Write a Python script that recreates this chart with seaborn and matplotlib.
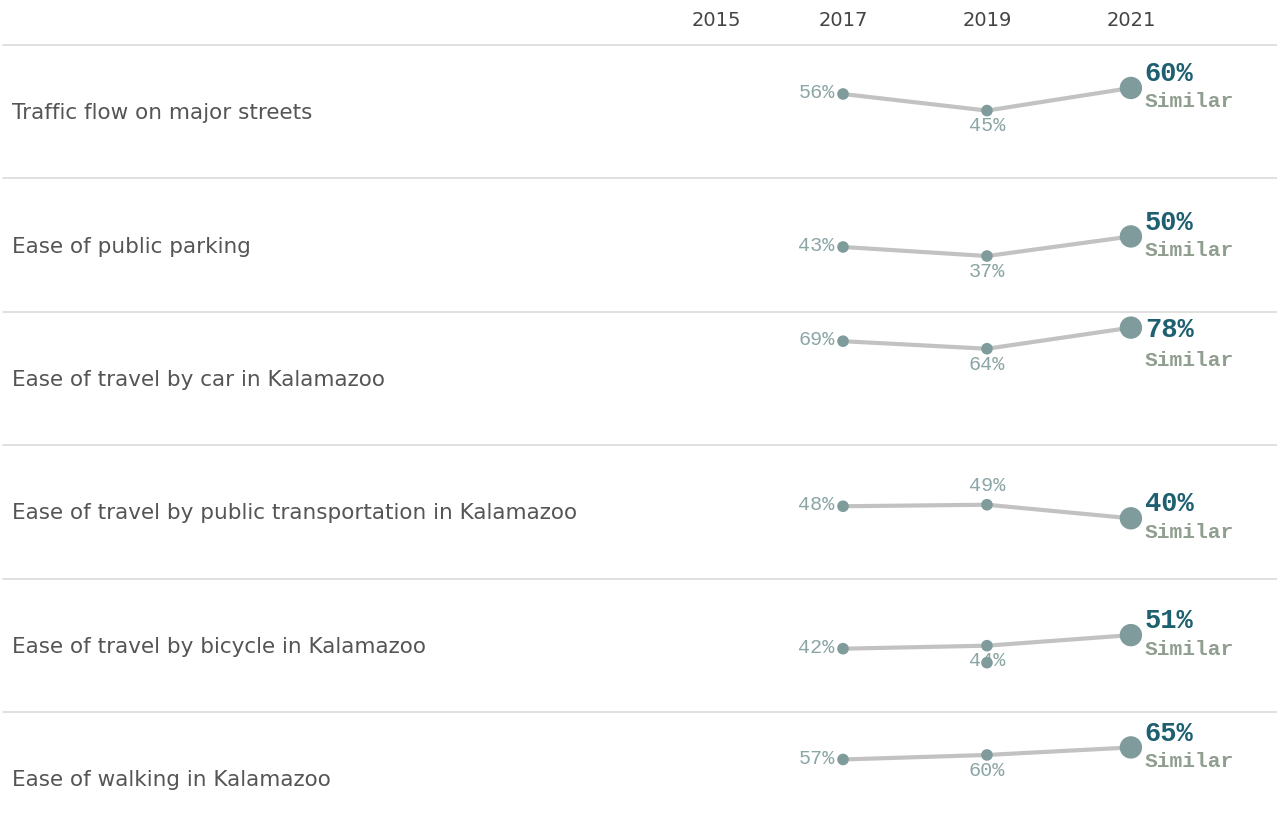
import matplotlib
matplotlib.use("Agg")
import matplotlib.pyplot as plt
from matplotlib.lines import Line2D
from matplotlib import transforms
import seaborn as sns
import pandas as pd

# ---------------- data ----------------
items = [
    "Traffic flow on major streets",
    "Ease of public parking",
    "Ease of travel by car in Kalamazoo",
    "Ease of travel by public transportation in Kalamazoo",
    "Ease of travel by bicycle in Kalamazoo",
    "Ease of walking in Kalamazoo",
]
years = [2017, 2019, 2021]
header_years = [2015, 2017, 2019, 2021]
v2017 = [56, 43, 69, 48, 42, 57]
v2019 = [45, 37, 64, 49, 44, 60]
v2021 = [60, 50, 78, 40, 51, 65]
status = ["Similar", "Similar", "Similar", "Similar", "Similar", "Similar"]

rows = []
for i, it in enumerate(items):
    for y, v in zip(years, [v2017[i], v2019[i], v2021[i]]):
        rows.append({"item": it, "year": y, "value": v, "latest": y == years[-1]})
df = pd.DataFrame(rows)

# ---------------- style ----------------
sns.set_theme(style="white")
plt.rcParams["font.family"] = ["DejaVu Sans"]

W, H = 1277, 838
fig = plt.figure(figsize=(W / 100, H / 100), dpi=100)

LINE_C = "#c2c2c2"
PT_C = "#7f9b9b"
LBL_C = "#8ca5a5"
BIG_C = "#1e5f70"
SIM_C = "#8f9e8f"
SEP_C = "#dadada"
MONO = "Liberation Mono"

left_px = 689
top_px = 45
row_h = 133.4
xlim = (2014.86, 2023.03)
ylim = (0, 88.5)
px_per_unit = row_h / (ylim[1] - ylim[0])

def fx(px):
    return px / W

def fy(py):
    return 1 - py / H

# separators
for i in range(len(items)):
    y = top_px + i * row_h
    fig.add_artist(Line2D([fx(3), fx(W)], [fy(y), fy(y)], color=SEP_C, lw=1.2,
                          transform=fig.transFigure))

axes = []
for i, it in enumerate(items):
    top = top_px + i * row_h
    ax = fig.add_axes([fx(left_px), fy(top + row_h), fx(W - left_px), row_h / H])
    ax.set_xlim(*xlim)
    ax.set_ylim(*ylim)
    ax.axis("off")
    ax.patch.set_alpha(0)
    d = df[df["item"] == it]
    sns.lineplot(data=d, x="year", y="value", ax=ax, color=LINE_C, lw=3,
                 legend=False, zorder=1)
    sns.scatterplot(data=d, x="year", y="value", size="latest",
                    sizes={False: 70, True: 260}, ax=ax, color=PT_C,
                    edgecolor="none", legend=False, zorder=2)
    ax.set_xlim(*xlim)
    ax.set_ylim(*ylim)

    a, b, c = v2017[i], v2019[i], v2021[i]
    # 2017 label left of point
    ax.annotate(f"{a}%", (2017, a), xytext=(-6, 1), textcoords="offset points",
                ha="right", va="center", fontsize=14.5, color=LBL_C, family=MONO)
    # 2019 label below (above if local peak)
    if b > a and b > c:
        ax.annotate(f"{b}%", (2019, b), xytext=(0, 14), textcoords="offset points",
                    ha="center", va="center", fontsize=14.5, color=LBL_C, family=MONO)
    else:
        ax.annotate(f"{b}%", (2019, b), xytext=(0, -11), textcoords="offset points",
                    ha="center", va="center", fontsize=14.5, color=LBL_C, family=MONO)
    # 2021 labels (pushed down when they would leave the row)
    if (ylim[1] - c) * px_per_unit < 25:
        dy_big, dy_sim = -2, -24
    else:
        dy_big, dy_sim = 10, -10
    ax.annotate(f"{c}%", (2021, c), xytext=(10, dy_big), textcoords="offset points",
                ha="left", va="center", fontsize=19.5, fontweight="bold",
                color=BIG_C, family=MONO)
    ax.annotate(status[i], (2021, c), xytext=(10, dy_sim), textcoords="offset points",
                ha="left", va="center", fontsize=15.3, fontweight="bold",
                color=SIM_C, family=MONO)
    if i == 4:
        off = transforms.offset_copy(ax.transData, fig=fig, x=0, y=-17, units="dots")
        ax.scatter([2019], [b], s=70, color=PT_C, edgecolor="none", transform=off, zorder=3)

    # row label
    fig.text(fx(12), fy(top + row_h / 2 + 1.5), it, ha="left", va="center",
             fontsize=15.5, color="#555555")
    axes.append(ax)

# header years
ax0 = axes[0]
tr = transforms.blended_transform_factory(ax0.transData, fig.transFigure)
for k, yr in enumerate(header_years):
    if yr < xlim[0] + 0.5:
        fig.text(fx(left_px + 3), fy(20), str(yr), ha="left", va="center",
                 fontsize=14, color="#444444")
    else:
        ax0.text(yr, fy(20), str(yr), ha="center", va="center", transform=tr,
                 fontsize=14, color="#444444")

fig.savefig("out.png", dpi=100)
